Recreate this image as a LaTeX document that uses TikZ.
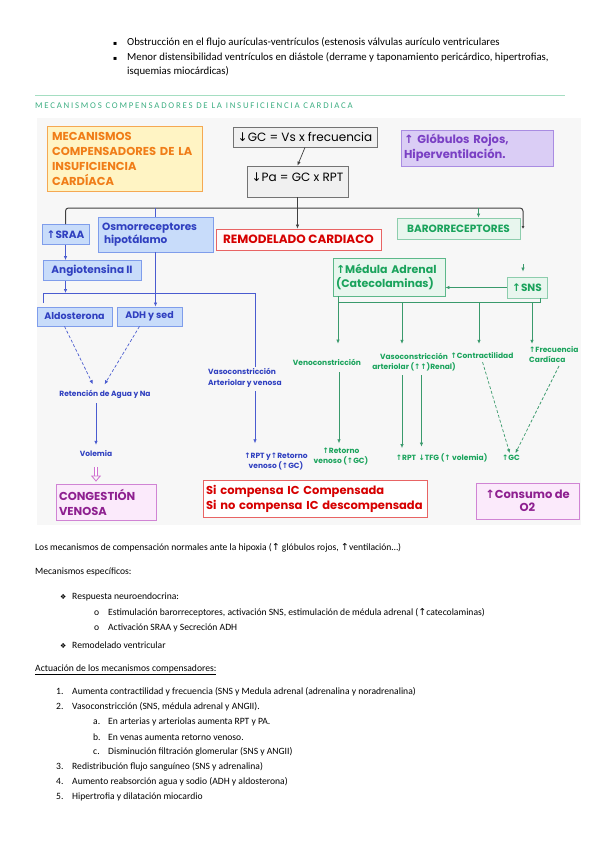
\documentclass[tikz,border=0pt]{standalone}
\usepackage{fontspec}
\setmainfont{Carlito}
\newfontfamily\gothic{Poppins}
\newfontfamily\symb{DejaVu Sans}
\newfontfamily\headfont[LetterSpace=20]{Carlito}
\usepackage{tikz}
\usetikzlibrary{positioning}
\usetikzlibrary{arrows.meta}
\usepackage{xcolor}
\definecolor{naranja}{HTML}{F07D18}
\definecolor{naranjafondo}{HTML}{FFF4C4}
\definecolor{naranjaborde}{HTML}{F5A852}
\definecolor{azul}{HTML}{3040C0}
\definecolor{azulfondo}{HTML}{C8DCFA}
\definecolor{azulborde}{HTML}{7F9DEB}
\definecolor{azullinea}{HTML}{4A5CD0}
\definecolor{rojo}{HTML}{D60000}
\definecolor{rojoborde}{HTML}{E86464}
\definecolor{verde}{HTML}{1AA35C}
\definecolor{verdefondo}{HTML}{E8F6EE}
\definecolor{verdeborde}{HTML}{5CB88A}
\definecolor{verdelinea}{HTML}{3A9A6C}
\definecolor{lila}{HTML}{7A40C4}
\definecolor{lilafondo}{HTML}{DACDF5}
\definecolor{lilaborde}{HTML}{A98CE2}
\definecolor{morado}{HTML}{8E2090}
\definecolor{rosafondo}{HTML}{FBEAFB}
\definecolor{rosaborde}{HTML}{D084D4}
\definecolor{rosaflecha}{HTML}{D070D0}
\definecolor{verdetit}{HTML}{3DAE82}
\definecolor{regla}{HTML}{A5DEC2}
\newcommand{\arrup}{{\symb ↑}}
\newcommand{\arrdn}{{\symb ↓}}

\begin{document}
\begin{tikzpicture}[x=1pt, y=-1pt,
    texto/.style={anchor=west, inner sep=0pt, font=\fontsize{9.6}{11}\selectfont},
    arriba/.style={texto, font=\fontsize{10.8}{12}\selectfont},
    caja/.style={draw, rectangle, inner sep=3pt, line width=0.8pt},
    azulcaja/.style={caja, fill=azulfondo, draw=azulborde, text=azul, minimum height=20pt, font=\gothic\bfseries\fontsize{10.5}{13}\selectfont},
    gricaja/.style={caja, fill=black!6, draw=black!55, font=\gothic\fontsize{12}{14}\selectfont},
    nota/.style={inner sep=1pt, align=center, font=\gothic\bfseries\fontsize{7.5}{10}\selectfont},
    flecha/.style={-{Latex[length=4pt,width=3.5pt]}, line width=0.7pt},
    flechaazul/.style={flecha, azullinea},
    flechaverde/.style={flecha, verdelinea}]
    \useasboundingbox (0,0) rectangle (599,848);
    % texto de arriba
    \node[arriba] (obstr) at (113,42) {\makebox[14pt][l]{\symb\fontsize{6}{6}\selectfont ▪}Obstrucción en el flujo aurículas-ventrículos (estenosis válvulas aurículo ventriculares};
    \node[arriba] (menor) at (113,57) {\makebox[14pt][l]{\symb\fontsize{6}{6}\selectfont ▪}Menor distensibilidad ventrículos en diástole (derrame y taponamiento pericárdico, hipertrofias,};
    \node[arriba] (isquem) at (127,71) {isquemias miocárdicas)};
    \draw[regla, line width=1pt] (35,96) -- (565,96);
    \node[anchor=west, inner sep=0pt, text=verdetit, font=\headfont\fontsize{8.8}{10}\selectfont] (encab) at (35,106) {MECANISMOS COMPENSADORES DE LA INSUFICIENCIA CARDIACA};
    \fill[black!3] (37,118) rectangle (581,525);

    % cajas de arriba
    \node[caja, fill=naranjafondo, draw=naranjaborde, text=naranja, align=left, text width=145pt, minimum height=65pt, inner sep=5pt, font=\gothic\bfseries\fontsize{11.5}{15}\selectfont] (titulo) at (124.5,158.5) {MECANISMOS\\COMPENSADORES DE LA\\INSUFICIENCIA\\CARDÍACA};
    \node[gricaja, minimum width=144pt, minimum height=20pt] (gc) at (305,137) {\arrdn GC = Vs x frecuencia};
    \node[gricaja, minimum width=101pt, text height=12pt, text depth=13pt] (pa) at (297.5,181.5) {\arrdn Pa = GC x RPT};
    \node[caja, fill=lilafondo, draw=lilaborde, text=lila, align=left, text width=146pt, minimum height=36pt, font=\gothic\bfseries\fontsize{11.5}{15}\selectfont] (globulos) at (477,148) {\arrup{} Glóbulos Rojos,\\Hiperventilación.};

    % fila de cajas
    \node[azulcaja, minimum width=47pt] (sraa) at (65.5,234.5) {\arrup SRAA};
    \node[azulcaja, minimum width=115pt, minimum height=35pt, align=left, text width=107pt] (osmo) at (155.5,234.5) {Osmorreceptores\\\hspace{2pt}hipotálamo};
    \node[caja, fill=red!2, draw=rojoborde, text=rojo, minimum width=165pt, minimum height=21pt, font=\gothic\bfseries\fontsize{12}{14}\selectfont] (remod) at (298.5,239.5) {REMODELADO CARDIACO};
    \node[caja, fill=verdefondo, draw=verdeborde!70, text=verde, minimum width=123pt, minimum height=21pt, font=\gothic\bfseries\fontsize{10.5}{13}\selectfont] (baro) at (458.5,228.5) {BARORRECEPTORES\hspace{6pt}};
    \node[azulcaja, minimum width=98pt] (angio) at (92,270.5) {Angiotensina II};
    \node[azulcaja, minimum width=75pt, minimum height=19pt, font=\gothic\bfseries\fontsize{9.5}{11}\selectfont] (aldo) at (74.5,316.5) {Aldosterona};
    \node[azulcaja, minimum width=65pt, minimum height=19pt, font=\gothic\bfseries\fontsize{9.5}{11}\selectfont] (adh) at (149.5,316.5) {ADH y sed};
    \node[caja, fill=verdefondo, draw=verdeborde, text=verde, align=left, text width=106pt, minimum height=38pt, font=\gothic\bfseries\fontsize{11}{14}\selectfont] (medula) at (389,277) {\arrup Médula Adrenal\\(Catecolaminas)};
    \node[caja, fill=verdefondo, draw=verdeborde!70, text=verde, minimum width=40pt, minimum height=21pt, font=\gothic\bfseries\fontsize{10.5}{13}\selectfont] (sns) at (527,287.5) {\arrup SNS};

    % textos sueltos
    \node[nota, text=azul] (reten) at (105,394) {Retención de Agua y Na};
    \node[nota, text=azul] (volemia) at (96,454) {Volemia};
    \node[nota, text=azul, anchor=west, align=left, font=\gothic\bfseries\fontsize{7.5}{11}\selectfont] (vasoart) at (207,377.5) {Vasoconstricción\\Arteriolar y venosa};
    \node[nota, text=azul] (rptret) at (276,462) {\arrup RPT y\arrup Retorno\\venoso (\arrup GC)};
    \node[nota, text=verde] (venocon) at (327,362) {Venoconstricción};
    \node[nota, text=verde] (vasoren) at (414,362) {Vasoconstricción\\arteriolar (\arrup\arrup)Renal)};
    \node[nota, text=verde] (contrac) at (482,356) {\arrup Contractilidad};
    \node[nota, text=verde, anchor=west, align=left] (frec) at (528,355) {\arrup Frecuencia\\Cardíaca};
    \node[nota, text=verde] (retven) at (341,457) {\arrup Retorno\\venoso (\arrup GC)};
    \node[nota, text=verde] (rpt) at (406,458) {\arrup RPT};
    \node[nota, text=verde] (tfg) at (453,458) {\arrdn TFG (\arrup{} volemia)};
    \node[nota, text=verde] (gcup) at (511,458) {\arrup GC};

    % cajas de abajo
    \node[caja, fill=rosafondo, draw=rosaborde, text=morado, align=left, text width=94pt, minimum height=36pt, font=\gothic\bfseries\fontsize{11.5}{15}\selectfont] (congest) at (106,502) {CONGESTIÓN\\VENOSA};
    \node[caja, fill=white, draw=rojoborde, text=rojo, align=left, text width=218pt, minimum height=37pt, font=\gothic\bfseries\fontsize{11.5}{15}\selectfont] (sicomp) at (315,498.5) {Si compensa IC Compensada\\Si no compensa IC descompensada};
    \node[caja, fill=rosafondo, draw=rosaborde, text=morado, align=center, minimum width=103pt, minimum height=36pt, font=\gothic\bfseries\fontsize{11.5}{13}\selectfont] (consumo) at (527.5,501) {\arrup Consumo de\\O2};

    % conectores negros
    \coordinate (busR) at (523,208);
    \coordinate (baroin) at (523,229);
    \draw[flecha, black!75] (gc.south) -- (pa.north);
    \draw[flecha, black!75] (pa.south) -- (pa.south |- remod.north);
    \draw[black!75, line width=1pt, rounded corners=3pt, -{Latex[length=3pt,width=3pt]}] (sraa.north) |- (busR) -- (baroin);
    \draw[flechaverde] ([xshift=20pt]baro.north |- busR) -- ([xshift=20pt]baro.north);

    % conectores azules
    \coordinate (bbusL) at (43,303);
    \coordinate (bbusR) at (255,293);
    \draw[azullinea, line width=0.7pt] (osmo.north |- busR) -- (osmo.north);
    \draw[flechaazul] (sraa.south) -- (sraa.south |- angio.north);
    \draw[azullinea, line width=0.7pt] (bbusL) |- (bbusR) -- (bbusR |- vasoart.north);
    \draw[flechaazul] (sraa.south |- angio.south) -- (sraa.south |- bbusR);
    \draw[flechaazul] (osmo.south) -- (osmo.south |- adh.north);
    \draw[flechaazul, densely dashed, shorten >=5pt] ([xshift=-10pt]aldo.south) -- ([xshift=-10pt]reten.north);
    \draw[flechaazul, densely dashed, shorten >=5pt] ([xshift=-10pt]adh.south) -- ([xshift=-3pt]reten.north);
    \draw[flechaazul, shorten <=4pt, shorten >=5pt] (volemia.north |- reten.south) -- (volemia.north);
    \draw[flechaazul, shorten <=3pt, shorten >=9pt] (bbusR |- vasoart.south) -- (bbusR |- rptret.north);
    \draw[draw=rosaflecha, line width=0.8pt, double=white, double distance=2pt, -{Triangle[open, length=6pt, width=10pt]}, shorten <=9pt, shorten >=2pt] (volemia.south) -- (congest.north -| volemia.south);

    % conectores verdes
    \coordinate (snsin) at (523,264);
    \coordinate (gbusL) at (338,302);
    \coordinate (gbusR) at (540,302);
    \draw[flechaverde] (sns.west) -- (sns.west -| medula.east);
    \draw[flechaverde, shorten >=5pt] (snsin) -- (snsin |- sns.north);
    \draw[verdelinea, line width=0.7pt] (gbusL |- medula.south) -- (gbusL) -- (gbusR) -- (gbusR |- sns.south);
    \draw[flechaverde, shorten >=14pt] (gbusL) -- (gbusL |- venocon.north);
    \draw[flechaverde, shorten >=8pt] ([xshift=-12pt]vasoren.north |- gbusL) -- ([xshift=-12pt]vasoren.north);
    \draw[flechaverde, shorten >=8pt] ([xshift=-3pt]contrac.north |- gbusL) -- ([xshift=-3pt]contrac.north);
    \draw[flechaverde, shorten >=2pt] ([xshift=4pt]frec.north west |- gbusL) -- ([xshift=4pt]frec.north west);
    \draw[flechaverde, shorten <=6pt, shorten >=4pt] ([xshift=-2pt]retven.north |- venocon.south) -- ([xshift=-2pt]retven.north);
    \draw[flechaverde, shorten <=3pt, shorten >=6pt] ([xshift=-4pt]rpt.north |- vasoren.south) -- ([xshift=-4pt]rpt.north);
    \draw[flechaverde, shorten <=3pt, shorten >=6pt] ([xshift=4pt]tfg.north west |- vasoren.south) -- ([xshift=4pt]tfg.north west);
    \draw[flechaverde, densely dashed, shorten <=2pt, shorten >=1pt] (contrac.south) -- ([xshift=-1pt]gcup.north);
    \draw[flechaverde, densely dashed, shorten <=2pt, shorten >=1pt] ([xshift=6pt]frec.south) -- ([xshift=4pt]gcup.north);

    % texto de abajo
    \node[texto] (hipox) at (35,548) {Los mecanismos de compensación normales ante la hipoxia (\arrup{} glóbulos rojos, \arrup ventilación…)};
    \node[texto] (especif) at (35,572) {Mecanismos específicos:};
    \node[texto] (resp) at (60,597) {\makebox[12pt][l]{\symb\fontsize{7}{7}\selectfont ❖}Respuesta neuroendocrina:};
    \node[texto] (estim) at (94,613) {\makebox[14pt][l]{o}Estimulación barorreceptores, activación SNS, estimulación de médula adrenal (\arrup catecolaminas)};
    \node[texto] (activ) at (94,628) {\makebox[14pt][l]{o}Activación SRAA y Secreción ADH};
    \node[texto] (remven) at (60,645) {\makebox[12pt][l]{\symb\fontsize{7}{7}\selectfont ❖}Remodelado ventricular};
    \node[texto] (actua) at (35,670) {\underline{Actuación de los mecanismos compensadores:}};
    \node[texto] (item1) at (56,692) {\makebox[16pt][l]{1.}Aumenta contractilidad y frecuencia (SNS y Medula adrenal (adrenalina y noradrenalina)};
    \node[texto] (item2) at (56,707) {\makebox[16pt][l]{2.}Vasoconstricción (SNS, médula adrenal y ANGII).};
    \node[texto] (item2a) at (93,722) {\makebox[15pt][l]{a.}En arterias y arteriolas aumenta RPT y PA.};
    \node[texto] (item2b) at (93,737) {\makebox[15pt][l]{b.}En venas aumenta retorno venoso.};
    \node[texto] (item2c) at (93,752) {\makebox[15pt][l]{c.}Disminución filtración glomerular (SNS y ANGII)};
    \node[texto] (item3) at (56,767) {\makebox[16pt][l]{3.}Redistribución flujo sanguíneo (SNS y adrenalina)};
    \node[texto] (item4) at (56,782) {\makebox[16pt][l]{4.}Aumento reabsorción agua y sodio (ADH y aldosterona)};
    \node[texto] (item5) at (56,797) {\makebox[16pt][l]{5.}Hipertrofia y dilatación miocardio};
\end{tikzpicture}
\end{document}
